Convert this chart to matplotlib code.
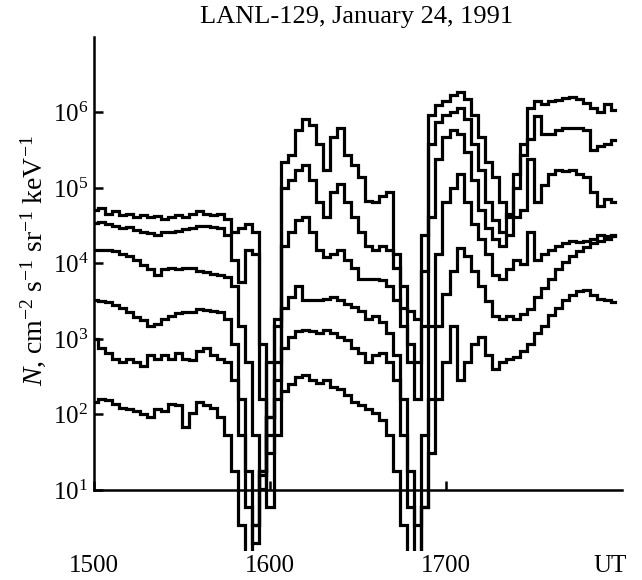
import numpy as np
import matplotlib
matplotlib.use("Agg")
import matplotlib.pyplot as plt
from matplotlib.ticker import LogFormatterMathtext, NullLocator, FixedLocator

plt.rcParams['font.family'] = ['Liberation Serif', 'DejaVu Serif']
plt.rcParams['mathtext.fontset'] = 'custom'
plt.rcParams['mathtext.rm'] = 'Liberation Serif'
plt.rcParams['mathtext.it'] = 'Liberation Serif:italic'

# time grid (UT, hhmm-like axis)
ut = list(range(1500, 1800, 4))

# log10 of flux for six channels
ch1 = [4.71, 4.74, 4.66, 4.69, 4.64, 4.66, 4.62, 4.64, 4.62, 4.63,
       4.59, 4.62, 4.64, 4.62, 4.65, 4.69, 4.66, 4.64, 4.66, 4.59,
       4.42, 4.47, 4.52, 4.42, 2.93, 1.49, 2.70, 5.34, 5.43, 5.77,
       5.91, 5.84, 5.58, 5.24, 5.67, 5.79, 5.43, 5.31, 5.14, 4.83,
       4.81, 4.90, 4.95, 4.13, 3.70, 3.37, 3.27, 3.90, 5.96, 6.10,
       6.15, 6.23, 6.27, 6.18, 5.96, 5.67, 5.34, 5.14, 4.81, 4.62,
       5.00, 5.58, 6.06, 6.15, 6.11, 6.15, 6.16, 6.19, 6.20, 6.18,
       6.13, 6.06, 6.00, 6.11, 6.03]
ch2 = [4.54, 4.55, 4.52, 4.50, 4.47, 4.48, 4.44, 4.42, 4.40, 4.38,
       4.42, 4.41, 4.43, 4.45, 4.47, 4.50, 4.50, 4.48, 4.47, 4.38,
       4.04, 3.75, 4.18, 4.13, 2.21, 0.77, 1.73, 5.00, 5.10, 5.24,
       5.31, 5.10, 4.81, 4.62, 4.95, 5.05, 4.81, 4.62, 4.42, 4.23,
       4.18, 4.23, 4.18, 3.94, 3.41, 2.93, 2.69, 4.38, 5.58, 5.87,
       5.96, 6.01, 6.06, 5.91, 5.58, 5.24, 4.81, 4.57, 4.42, 4.66,
       5.19, 5.43, 5.65, 5.95, 5.72, 5.72, 5.77, 5.79, 5.79, 5.79,
       5.77, 5.50, 5.55, 5.58, 5.63]
ch3 = [4.18, 4.18, 4.18, 4.16, 4.13, 4.10, 4.04, 3.98, 3.92, 3.85,
       3.92, 3.94, 3.92, 3.94, 3.94, 3.90, 3.89, 3.86, 3.85, 3.82,
       3.70, 3.17, 2.69, 1.73, 1.01, 1.73, 3.17, 4.23, 4.42, 4.57,
       4.62, 4.42, 4.18, 4.09, 4.13, 4.18, 4.04, 3.94, 3.80, 3.80,
       3.80, 3.78, 3.70, 3.51, 3.17, 2.69, 2.21, 3.17, 4.62, 5.38,
       5.67, 5.77, 5.72, 5.48, 5.10, 4.71, 4.47, 4.33, 4.23, 4.38,
       4.62, 4.71, 5.38, 4.81, 5.04, 5.19, 5.24, 5.22, 5.24, 5.19,
       5.14, 4.95, 4.76, 4.86, 4.81]
ch4 = [3.51, 3.50, 3.49, 3.45, 3.41, 3.36, 3.29, 3.25, 3.17, 3.20,
       3.27, 3.31, 3.34, 3.36, 3.35, 3.39, 3.38, 3.37, 3.36, 3.27,
       2.93, 2.21, 1.25, 0.53, 1.25, 2.69, 3.27, 3.41, 3.56, 3.70,
       3.51, 3.51, 3.52, 3.53, 3.56, 3.51, 3.46, 3.42, 3.37, 3.27,
       3.30, 3.22, 3.08, 2.79, 2.21, 1.25, 0.53, 1.73, 3.17, 4.13,
       4.81, 5.00, 5.19, 4.81, 4.52, 4.33, 4.13, 3.85, 3.80, 3.92,
       4.04, 3.99, 4.42, 4.04, 4.13, 4.18, 4.23, 4.27, 4.30, 4.29,
       4.30, 4.33, 4.38, 4.36, 4.38]
ch5 = [3.00, 2.88, 2.81, 2.74, 2.69, 2.74, 2.69, 2.64, 2.79, 2.74,
       2.79, 2.74, 2.81, 2.74, 2.72, 2.84, 2.88, 2.79, 2.74, 2.69,
       2.45, 1.73, 0.77, 0.29, 1.20, 1.97, 2.45, 2.88, 3.03, 3.10,
       3.12, 3.10, 3.08, 3.12, 3.08, 3.03, 2.98, 2.88, 2.81, 2.69,
       2.79, 2.81, 2.69, 2.45, 1.73, 0.77, 0.05, 0.77, 2.21, 3.17,
       3.60, 3.90, 4.20, 4.10, 3.90, 3.70, 3.50, 3.30, 3.27, 3.30,
       3.27, 3.33, 3.40, 3.55, 3.68, 3.80, 3.92, 4.02, 4.10, 4.17,
       4.22, 4.27, 4.30, 4.33, 4.37]
ch6 = [2.16, 2.21, 2.19, 2.14, 2.09, 2.07, 2.04, 2.00, 1.97, 2.07,
       2.04, 2.14, 2.12, 1.83, 2.02, 2.16, 2.12, 2.09, 1.97, 1.73,
       1.25, 0.53, 0.05, 0.53, 1.25, 1.97, 2.21, 2.31, 2.40, 2.50,
       2.52, 2.45, 2.42, 2.45, 2.36, 2.33, 2.26, 2.16, 2.12, 2.07,
       2.02, 1.92, 1.73, 1.25, 0.53, 0.00, 0.00, 0.77, 1.49, 2.21,
       2.69, 3.17, 2.45, 2.69, 2.93, 3.03, 2.79, 2.60, 2.69, 2.74,
       2.76, 2.84, 2.93, 3.08, 3.17, 3.32, 3.41, 3.51, 3.58, 3.63,
       3.65, 3.58, 3.53, 3.51, 3.49]
channels = [ch1, ch2, ch3, ch4, ch5, ch6]

xtick_vals = [1500, 1600, 1700]
xtick_labels = ['1500', '1600', '1700']
ytick_vals = [1e1, 1e2, 1e3, 1e4, 1e5, 1e6]

W, H = 642, 580
fig = plt.figure(figsize=(W / 100, H / 100), dpi=100)
ax = fig.add_axes([94 / W, 1 - 551 / H, (622 - 94) / W, (551 - 37) / H])

for ch in channels:
    ax.plot(ut, 10 ** np.array(ch), color='black', lw=2.3,
            drawstyle='steps-mid', solid_joinstyle='miter')

ax.set_yscale('log')
ax.set_xlim(1500, 1800)
ax.set_ylim(10 ** 0.19, 1e7)

for s in ['top', 'right']:
    ax.spines[s].set_visible(False)
ax.spines['left'].set_bounds(10, 1e7)
ax.spines['bottom'].set_position(('data', 10))
for s in ['left', 'bottom']:
    ax.spines[s].set_linewidth(1.8)

ax.yaxis.set_major_locator(FixedLocator(ytick_vals))
ax.yaxis.set_major_formatter(LogFormatterMathtext())
ax.yaxis.set_minor_locator(NullLocator())
ax.set_xticks(xtick_vals, labels=xtick_labels)
ax.set_xticks([1793], labels=['UT'], minor=True)

ax.tick_params(axis='y', direction='in', length=6.5, width=1.8,
               labelsize=18, pad=4)
ax.tick_params(axis='x', which='major', direction='in', length=6.5,
               width=1.8, labelsize=18, pad=47)
ax.tick_params(axis='x', which='minor', length=0, labelsize=18, pad=47)

fig.text(33 / W, 1 - 261 / H,
         r'$N$, cm$^{-2}$ s$^{-1}$ sr$^{-1}$ keV$^{-1}$',
         rotation=90, ha='center', va='center', fontsize=20)
fig.text(357 / W, 1 - 17 / H, 'LANL-129, January 24, 1991',
         ha='center', va='center', fontsize=19)

fig.savefig('out.png', dpi=100)
